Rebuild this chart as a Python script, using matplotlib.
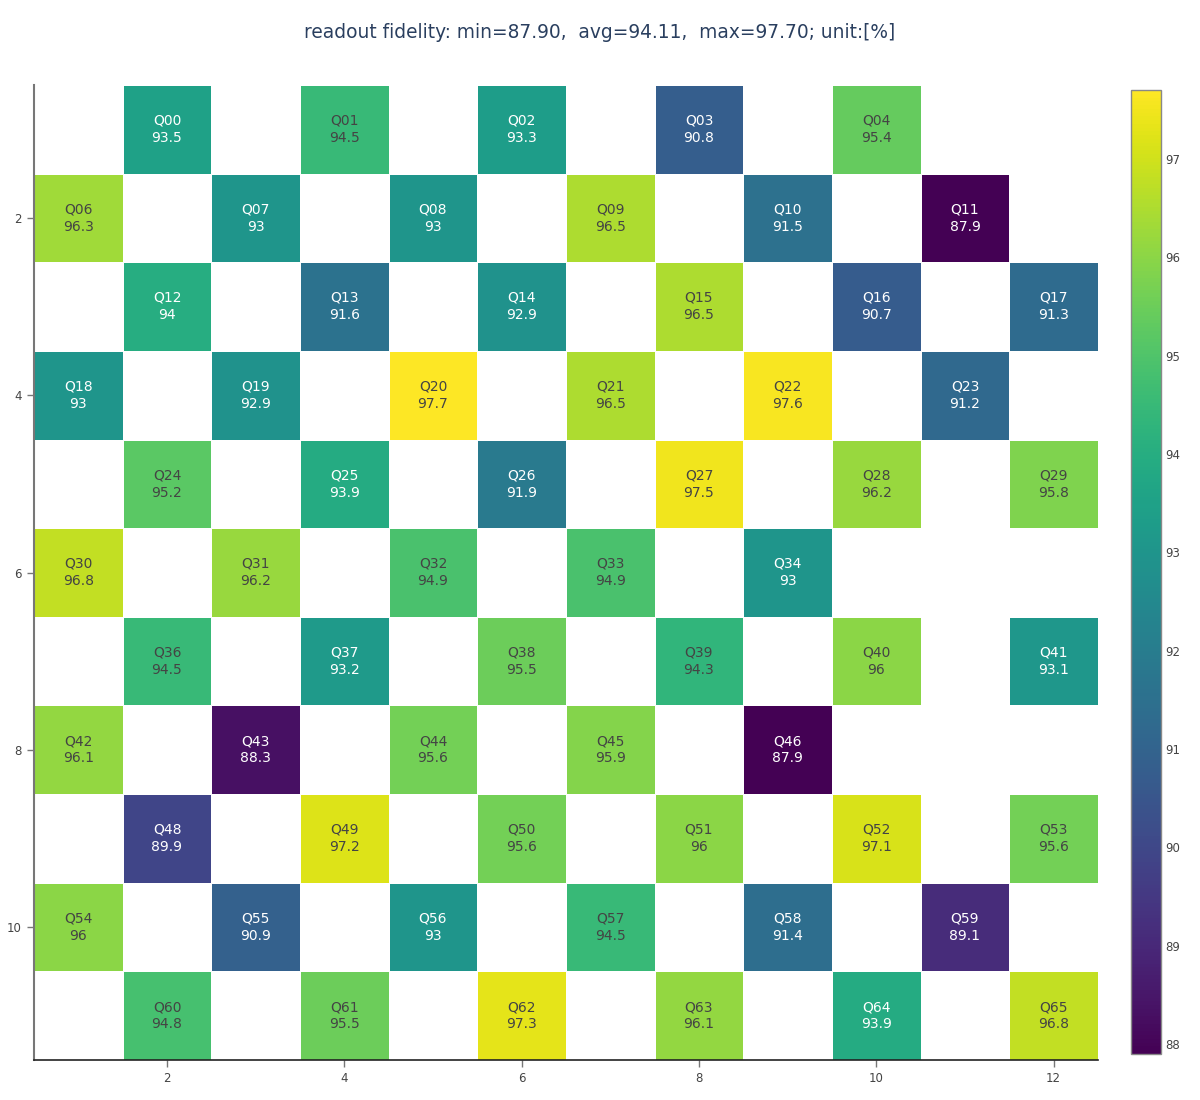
import numpy as np
import matplotlib
matplotlib.use('Agg')
import matplotlib.pyplot as plt

plt.rcParams['font.family'] = ['DejaVu Sans']

# qubit names / fidelity per row (row 1 at top), None = no qubit
rows = [
    [None, 'Q00', None, 'Q01', None, 'Q02', None, 'Q03', None, 'Q04', None, None],
    ['Q06', None, 'Q07', None, 'Q08', None, 'Q09', None, 'Q10', None, 'Q11', None],
    [None, 'Q12', None, 'Q13', None, 'Q14', None, 'Q15', None, 'Q16', None, 'Q17'],
    ['Q18', None, 'Q19', None, 'Q20', None, 'Q21', None, 'Q22', None, 'Q23', None],
    [None, 'Q24', None, 'Q25', None, 'Q26', None, 'Q27', None, 'Q28', None, 'Q29'],
    ['Q30', None, 'Q31', None, 'Q32', None, 'Q33', None, 'Q34', None, None, None],
    [None, 'Q36', None, 'Q37', None, 'Q38', None, 'Q39', None, 'Q40', None, 'Q41'],
    ['Q42', None, 'Q43', None, 'Q44', None, 'Q45', None, 'Q46', None, None, None],
    [None, 'Q48', None, 'Q49', None, 'Q50', None, 'Q51', None, 'Q52', None, 'Q53'],
    ['Q54', None, 'Q55', None, 'Q56', None, 'Q57', None, 'Q58', None, 'Q59', None],
    [None, 'Q60', None, 'Q61', None, 'Q62', None, 'Q63', None, 'Q64', None, 'Q65'],
]
fidelity = {
    'Q00': 93.5, 'Q01': 94.5, 'Q02': 93.3, 'Q03': 90.8, 'Q04': 95.4,
    'Q06': 96.3, 'Q07': 93.0, 'Q08': 93.0, 'Q09': 96.5, 'Q10': 91.5, 'Q11': 87.9,
    'Q12': 94.0, 'Q13': 91.6, 'Q14': 92.9, 'Q15': 96.5, 'Q16': 90.7, 'Q17': 91.3,
    'Q18': 93.0, 'Q19': 92.9, 'Q20': 97.7, 'Q21': 96.5, 'Q22': 97.6, 'Q23': 91.2,
    'Q24': 95.2, 'Q25': 93.9, 'Q26': 91.9, 'Q27': 97.5, 'Q28': 96.2, 'Q29': 95.8,
    'Q30': 96.8, 'Q31': 96.2, 'Q32': 94.9, 'Q33': 94.9, 'Q34': 93.0,
    'Q36': 94.5, 'Q37': 93.2, 'Q38': 95.5, 'Q39': 94.3, 'Q40': 96.0, 'Q41': 93.1,
    'Q42': 96.1, 'Q43': 88.3, 'Q44': 95.6, 'Q45': 95.9, 'Q46': 87.9,
    'Q48': 89.9, 'Q49': 97.2, 'Q50': 95.6, 'Q51': 96.0, 'Q52': 97.1, 'Q53': 95.6,
    'Q54': 96.0, 'Q55': 90.9, 'Q56': 93.0, 'Q57': 94.5, 'Q58': 91.4, 'Q59': 89.1,
    'Q60': 94.8, 'Q61': 95.5, 'Q62': 97.3, 'Q63': 96.1, 'Q64': 93.9, 'Q65': 96.8,
}
title = 'readout fidelity: min=87.90,  avg=94.11,  max=97.70; unit:[%]'

nrow, ncol = len(rows), len(rows[0])
z = np.full((nrow, ncol), np.nan)
for i, r in enumerate(rows):
    for j, q in enumerate(r):
        if q is not None:
            z[i, j] = fidelity[q]
zm = np.ma.masked_invalid(z)
vmin, vmax = np.nanmin(z), np.nanmax(z)

fig = plt.figure(figsize=(12, 11), dpi=100)
ax = fig.add_axes([34/1200, 40/1100, 1064/1200, 975/1100])
cax = fig.add_axes([1131/1200, 46/1100, 30/1200, 964/1100])

xe = np.arange(0.5, ncol + 1)
ye = np.arange(0.5, nrow + 1)
mesh = ax.pcolormesh(xe, ye, zm, cmap='viridis', vmin=vmin, vmax=vmax,
                     edgecolor='white', linewidth=0.4)
ax.set_xlim(0.5, ncol + 0.5)
ax.set_ylim(nrow + 0.5, 0.5)

for i, r in enumerate(rows):
    for j, q in enumerate(r):
        if q is None:
            continue
        v = fidelity[q]
        col = 'white' if v < 94.2 else '#444444'
        ax.text(j + 1, i + 1, '%s\n%g' % (q, v), ha='center', va='center',
                fontsize=10, color=col, linespacing=1.3)

ax.set_xticks(range(2, ncol + 1, 2))
ax.set_yticks(range(2, nrow + 1, 2))
ax.tick_params(axis='both', length=5, width=1, color='#777777',
               labelcolor='#444444', labelsize=8.5, pad=4)
for s in ['top', 'right']:
    ax.spines[s].set_visible(False)
ax.spines['left'].set_color('#777777')
ax.spines['left'].set_linewidth(1.5)
ax.spines['bottom'].set_color('#222222')
ax.spines['bottom'].set_linewidth(1.2)

cb = fig.colorbar(mesh, cax=cax)
cb.set_ticks(range(88, 98))
cb.ax.tick_params(length=0, labelsize=8.5, labelcolor='#444444', pad=3)
cb.outline.set_edgecolor('#888888')
cb.outline.set_linewidth(1)

fig.text(0.5, 1 - 33/1100, title, ha='center', va='center',
         fontsize=13.4, color='#2a3f5f')

fig.savefig('out.png', dpi=100)
